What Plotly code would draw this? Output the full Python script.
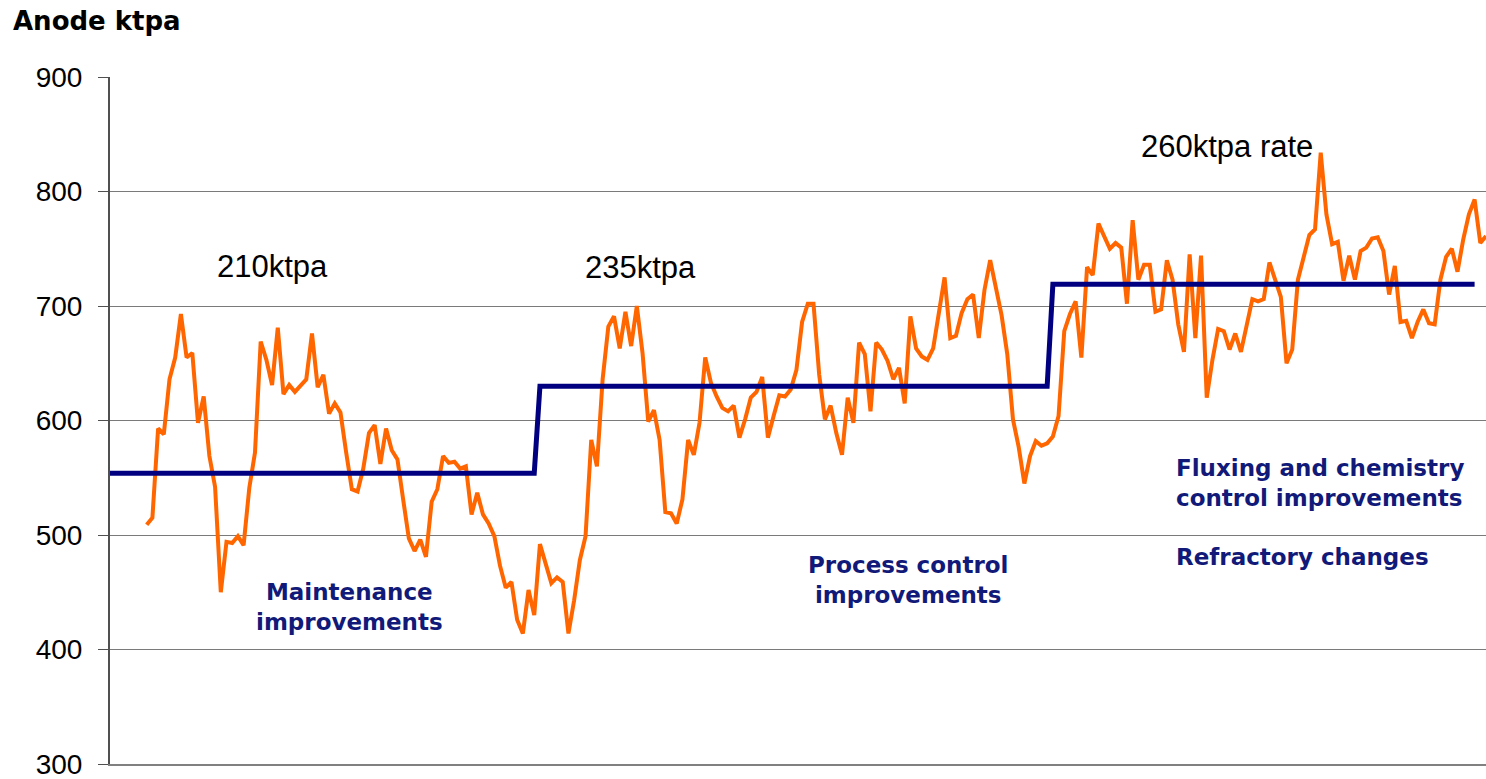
import plotly.graph_objects as go

# Weekly anode production (ktpa)
anode_ktpa = [
    509, 515, 593, 588, 636, 655, 693, 655, 659, 598, 621, 569, 542, 450, 494, 493, 499, 491, 541, 572,
    669, 653, 631, 681, 623, 631, 625, 630, 636, 676, 629, 640, 606, 615, 607, 572,
    540, 538, 558, 589, 596, 562, 593, 574, 566, 531, 497, 486, 496, 481, 529, 540, 569, 563, 564, 558,
    560, 518, 537, 518, 510, 499, 473, 454, 459, 426, 414, 452, 430, 492, 475, 458, 463, 459, 414, 443,
    478, 499,
    583, 560, 636, 682, 691, 663, 695, 665, 700, 659, 599, 609, 583, 520, 519, 510, 531, 583, 570, 598,
    655, 633, 621, 611, 608, 613, 585, 601, 620, 625, 638, 585, 604, 622, 621, 627, 644, 686, 702, 702,
    640,
    601, 613, 589, 570, 620, 598, 668, 658, 608, 668, 662, 652, 636, 646, 615, 691, 663, 656, 653, 663,
    697, 725, 672, 674, 694, 706, 710, 672, 714, 740, 716, 692, 658, 601, 577, 545, 569, 582, 578, 580,
    586, 604, 678, 693,
    704, 655, 734, 727, 772, 761, 750, 755, 751, 702, 775, 723, 736, 736, 695, 697, 740, 723, 684, 660,
    745, 672, 744, 620, 653, 680, 678, 662, 676, 660, 685, 706, 704, 706, 738,
    724, 708, 650, 662, 723, 743, 762, 767, 834, 780, 754, 756, 722, 744, 723, 748, 751, 759, 760, 748,
    710, 735, 686, 687, 672, 686, 697, 685, 684, 723, 743, 750, 730, 758, 780, 793, 755, 761,
]
weeks = list(range(len(anode_ktpa)))

# Target capacity steps (week index where each level starts / ends, and level)
target_start = [-7, 69, 159]
target_end = [68, 158, 233]
target_level = [554, 630, 719]

target_x, target_y = [], []
for s, e, lv in zip(target_start, target_end, target_level):
    target_x += [s, e]
    target_y += [lv, lv]

rate_labels = ["210ktpa", "235ktpa", "260ktpa rate"]
initiative_labels = [
    "Maintenance<br>improvements",
    "Process control<br>improvements",
    "Fluxing and chemistry<br>control improvements",
    "Refractory changes",
]

y_ticks = [300, 400, 500, 600, 700, 800, 900]

W, H = 1486, 779
L, R, T, B = 110, 0, 77, 15
PW, PH = W - L - R, H - T - B


def px(x):
    return (x - L) / PW


def py(y):
    return (H - B - y) / PH


fig = go.Figure()
fig.add_trace(go.Scatter(
    x=weeks, y=anode_ktpa, mode="lines",
    line=dict(color="#FF6600", width=4), hoverinfo="skip", showlegend=False,
))
fig.add_trace(go.Scatter(
    x=target_x, y=target_y, mode="lines",
    line=dict(color="#000080", width=5), hoverinfo="skip", showlegend=False,
))

black_font = dict(family="Liberation Sans, Arial, sans-serif", size=31, color="#000000")
navy_font = dict(family="DejaVu Sans, Verdana, sans-serif", size=23, color="#111a78")

annotations = [
    dict(text=rate_labels[0], x=px(272), y=py(266), font=black_font, xanchor="center", yanchor="middle"),
    dict(text=rate_labels[1], x=px(640), y=py(267), font=black_font, xanchor="center", yanchor="middle"),
    dict(text=rate_labels[2], x=px(1227), y=py(146), font=black_font, xanchor="center", yanchor="middle"),
    dict(text="<b>" + initiative_labels[0] + "</b>", x=px(349), y=py(607), font=navy_font,
         xanchor="center", yanchor="middle", align="center"),
    dict(text="<b>" + initiative_labels[1] + "</b>", x=px(908), y=py(580), font=navy_font,
         xanchor="center", yanchor="middle", align="center"),
    dict(text="<b>" + initiative_labels[2] + "</b>", x=px(1174), y=py(483), font=navy_font,
         xanchor="left", yanchor="middle", align="left"),
    dict(text="<b>" + initiative_labels[3] + "</b>", x=px(1174), y=py(557), font=navy_font,
         xanchor="left", yanchor="middle", align="left"),
]
for a in annotations:
    a.update(xref="paper", yref="paper", showarrow=False)

fig.update_layout(
    width=W, height=H,
    margin=dict(l=L, r=R, t=T, b=B, pad=0),
    paper_bgcolor="white", plot_bgcolor="white",
    title=dict(text="<b>Anode ktpa</b>", x=13 / W, xanchor="left", y=1 - 21 / H, yanchor="middle",
               font=dict(family="DejaVu Sans, Verdana, sans-serif", size=26, color="#000000")),
    xaxis=dict(range=[-6.44, 235], showticklabels=False, ticks="", showgrid=False, zeroline=False,
               showline=True, linecolor="#808080", linewidth=2),
    yaxis=dict(range=[300, 900], tickvals=y_ticks, showgrid=True, gridcolor="#7a7a7a", gridwidth=1,
               zeroline=False, showline=True, linecolor="#505050", linewidth=2,
               ticks="outside", ticklen=10, tickcolor="#505050", tickwidth=1,
               ticklabelstandoff=10, ticklabeloverflow="allow",
               tickfont=dict(family="Liberation Sans, Arial, sans-serif", size=28, color="#000000")),
    annotations=annotations,
)

fig.write_html(
    "out.html",
    config={"displayModeBar": False},
    post_script="document.body.style.margin='0';document.body.style.overflow='hidden';",
)
